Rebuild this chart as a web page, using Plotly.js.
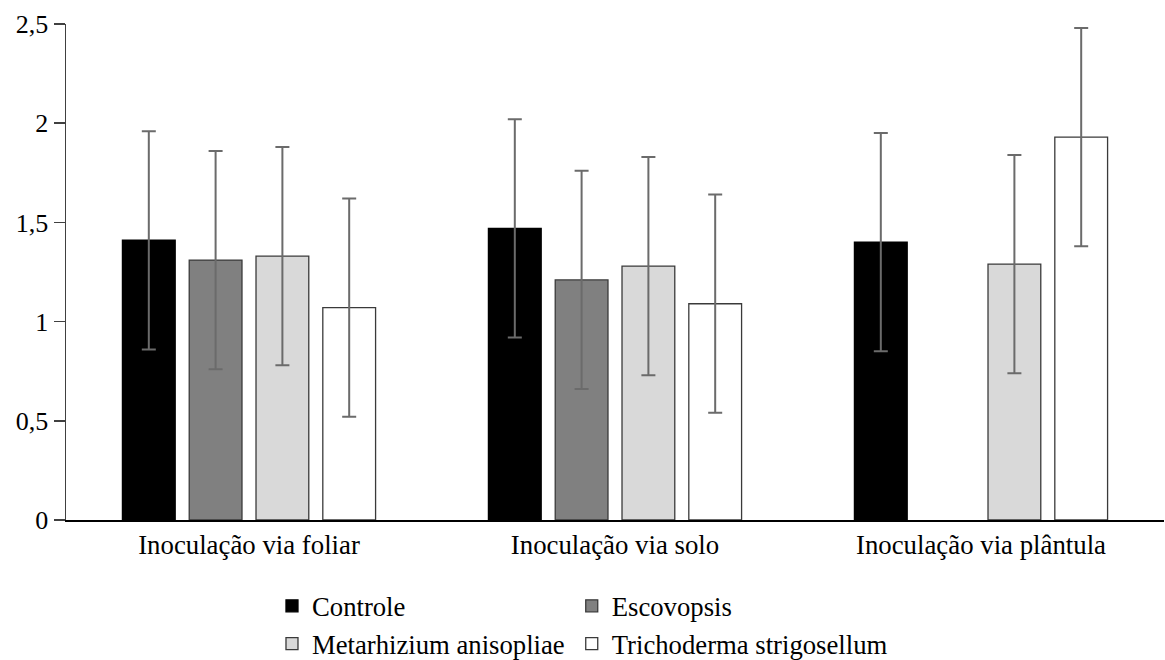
<!DOCTYPE html>
<html>
<head>
<meta charset="utf-8">
<script src="https://cdn.plot.ly/plotly-3.0.1.min.js"></script>
<style>
  html, body { margin: 0; padding: 0; background: #ffffff; }
  #chart { width: 1165px; height: 660px; }
</style>
</head>
<body>
<div id="chart"></div>
<script>
// Data
const categories = ['Inoculação via foliar', 'Inoculação via solo', 'Inoculação via plântula'];
const seriesNames = ['Controle', 'Escovopsis', 'Metarhizium anisopliae', 'Trichoderma strigosellum'];
const controle    = [1.41, 1.47, 1.40];
const escovopsis  = [1.31, 1.21, null];
const metarhizium = [1.33, 1.28, 1.29];
const trichoderma = [1.07, 1.09, 1.93];
const errControle    = [0.55, 0.55, 0.55];
const errEscovopsis  = [0.55, 0.55, 0.55];
const errMetarhizium = [0.55, 0.55, 0.55];
const errTrichoderma = [0.55, 0.55, 0.55];
const yTickVals = [0, 0.5, 1, 1.5, 2, 2.5];
const yTickText = ['0', '0,5', '1', '1,5', '2', '2,5'];

const FONT = 'Liberation Serif, Times New Roman, serif';
const fills = ['#000000', '#808080', '#d9d9d9', '#ffffff'];
const lines = ['#000000', '#3a3a3a', '#3a3a3a', '#3a3a3a'];
const legends = ['legend', 'legend2', 'legend', 'legend2'];
const values = [controle, escovopsis, metarhizium, trichoderma];
const errors = [errControle, errEscovopsis, errMetarhizium, errTrichoderma];

const traces = values.map((v, i) => ({
  type: 'bar',
  name: seriesNames[i],
  x: categories,
  y: v,
  legend: legends[i],
  marker: { color: fills[i], line: { color: lines[i], width: 1.3 } },
  error_y: { type: 'data', array: errors[i], visible: true, color: '#6b6b6b', thickness: 2, width: 7 },
  hoverinfo: 'skip'
}));

// legend placed relative to the container; margins fixed so the plot area is not shrunk
const LEG_TOP = 582;           // px from top of figure
const FIG_H = 660;
const legendCommon = {
  orientation: 'v',
  xref: 'paper',
  yref: 'container',
  y: 1 - LEG_TOP / FIG_H,
  xanchor: 'left',
  yanchor: 'top',
  bgcolor: 'rgba(0,0,0,0)',
  borderwidth: 0,
  font: { family: FONT, size: 26.7, color: '#000000' },
  tracegroupgap: 0,
  itemclick: false,
  itemdoubleclick: false
};

const layout = {
  width: 1165,
  height: FIG_H,
  margin: { l: 66, r: 1, t: 24, b: 140, autoexpand: false },
  paper_bgcolor: '#ffffff',
  plot_bgcolor: '#ffffff',
  font: { family: FONT, size: 26, color: '#000000' },
  separators: ',.',
  barmode: 'group',
  bargap: 0.27,
  bargroupgap: 0.21,
  showlegend: true,
  legend: Object.assign({ x: 0.1876 }, legendCommon),
  legend2: Object.assign({ x: 0.4606 }, legendCommon),
  xaxis: {
    type: 'category',
    showgrid: false,
    zeroline: false,
    showline: true,
    linecolor: '#000000',
    linewidth: 1.5,
    ticks: '',
    tickfont: { family: FONT, size: 26.8, color: '#000000' },
    fixedrange: true
  },
  yaxis: {
    range: [0, 2.5],
    tickvals: yTickVals,
    ticktext: yTickText,
    showgrid: false,
    zeroline: false,
    showline: true,
    linecolor: '#404040',
    linewidth: 1.5,
    ticks: 'outside',
    ticklen: 11,
    tickwidth: 1.5,
    tickcolor: '#404040',
    tickfont: { family: FONT, size: 26, color: '#000000' },
    fixedrange: true
  }
};

Plotly.newPlot('chart', traces, layout, { displayModeBar: false, staticPlot: true });
</script>
</body>
</html>
